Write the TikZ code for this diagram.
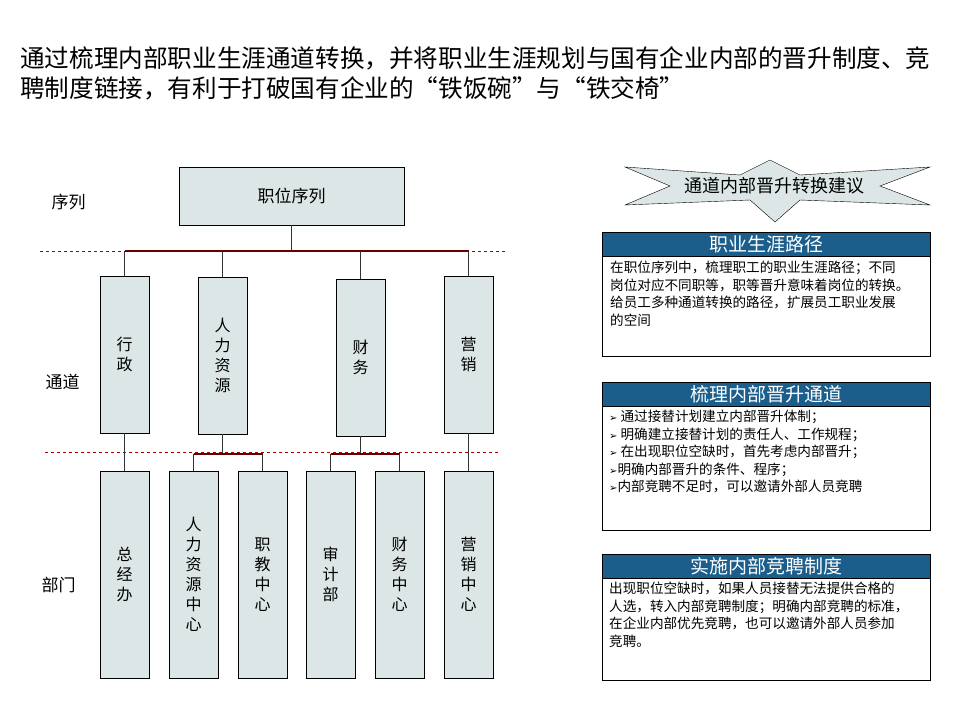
\documentclass[tikz,border=0pt]{standalone}
\usepackage{fontspec}
\setmainfont{Noto Sans CJK SC}
\newfontfamily\symfont{DejaVu Sans}
\newcommand{\arr}{{\symfont\fontsize{10}{12}\selectfont ➢}}
\begin{document}
\begin{tikzpicture}[x=1pt,y=-1pt,
  box/.style={draw=black,fill=boxfill,inner sep=0pt},
  vtext/.style={font=\fontsize{16}{20}\selectfont,align=center},
  lbl/.style={font=\fontsize{17}{19}\selectfont,anchor=west},
  conn/.style={draw=black!80,line width=0.8pt},
  bus/.style={draw=red!40!black,line width=1.2pt},
  sep/.style={draw=red!70!black,dashed,line width=0.5pt},
  head/.style={fill=headblue,draw=black,text=white,font=\fontsize{19}{20}\selectfont,inner sep=0pt},
  panel/.style={draw=black,line width=0.8pt},
  body/.style={font=\fontsize{13.6}{17.5}\selectfont,anchor=north west,align=left,inner sep=0pt}]
\definecolor{boxfill}{HTML}{DDE6E6}
\definecolor{headblue}{HTML}{1B5E8C}
\useasboundingbox (0,0) rectangle (960,720);
\fill[white] (0,0) rectangle (960,720);
% title
\node[anchor=west,inner sep=0pt,font=\fontsize{24.6}{28}\selectfont] (t1) at (20,58) {通过梳理内部职业生涯通道转换，并将职业生涯规划与国有企业内部的晋升制度、竞};
\node[anchor=west,inner sep=0pt,font=\fontsize{24.6}{28}\selectfont] (t2) at (20,88) {聘制度链接，有利于打破国有企业的“铁饭碗”与“铁交椅”};
% labels
\node[lbl] (l1) at (48,202) {序列};
\node[lbl] (l2) at (42,382) {通道};
\node[lbl] (l3) at (38,585) {部门};
% separators
\coordinate (s1a) at (40,251); \coordinate (s1b) at (505,251);
\coordinate (s2a) at (45,452); \coordinate (s2b) at (500,452);
\draw[sep] (s1a) -- (s1b);
\draw[sep] (s2a) -- (s2b);
% root
\node[box,minimum width=225pt,minimum height=58pt,font=\fontsize{17}{19}\selectfont] (root) at (291.5,196) {职位序列};
% channels
\node[box,minimum width=49pt,minimum height=157pt,vtext] (c1) at (124.5,354.5) {行\\政};
\node[box,minimum width=49pt,minimum height=157pt,vtext] (c2) at (222.5,355.5) {人\\力\\资\\源};
\node[box,minimum width=49pt,minimum height=157pt,vtext] (c3) at (360.5,357.5) {财\\务};
\node[box,minimum width=49pt,minimum height=157pt,vtext] (c4) at (468.5,354.5) {营\\销};
% departments
\node[box,minimum width=49pt,minimum height=207pt,vtext] (d1) at (124.5,574.5) {总\\经\\办};
\node[box,minimum width=49pt,minimum height=207pt,vtext] (d2) at (193.5,574.5) {人\\力\\资\\源\\中\\心};
\node[box,minimum width=49pt,minimum height=207pt,vtext] (d3) at (262.5,574.5) {职\\教\\中\\心};
\node[box,minimum width=49pt,minimum height=207pt,vtext] (d4) at (330.5,574.5) {审\\计\\部};
\node[box,minimum width=49pt,minimum height=207pt,vtext] (d5) at (399.5,574.5) {财\\务\\中\\心};
\node[box,minimum width=49pt,minimum height=207pt,vtext] (d6) at (468.5,574.5) {营\\销\\中\\心};
% tree connectors
\draw[conn] (root.south) -- ++(0,26);
\draw[bus] (c1.north |- 0,251) -- (c4.north |- 0,251);
\foreach \c in {c1,c2,c3,c4} \draw[conn] (\c.north) -- (\c.north |- 0,251);
\draw[conn] (c1.south) -- (d1.north);
\draw[conn] (c4.south) -- (d6.north);
\draw[conn] (c2.south) -- (c2.south |- 0,454);
\draw[bus] (d2.north |- 0,454) -- (d3.north |- 0,454);
\draw[conn] (d2.north) -- (d2.north |- 0,454);
\draw[conn] (d3.north) -- (d3.north |- 0,454);
\draw[conn] (c3.south) -- (c3.south |- 0,454);
\draw[bus] (d4.north |- 0,454) -- (d5.north |- 0,454);
\draw[conn] (d4.north) -- (d4.north |- 0,454);
\draw[conn] (d5.north) -- (d5.north |- 0,454);
% banner
\draw[fill=boxfill,draw=black] (625,167) -- (740,175) -- (770,160) -- (800,175) -- (930,167) -- (880,186) -- (930,205) -- (800,200) -- (775,222) -- (750,200) -- (625,205) -- (670,186) -- cycle;
\node[font=\fontsize{18}{20}\selectfont] (ban) at (774,186) {通道内部晋升转换建议};
% panel 1
\draw[panel] (602,232) rectangle (930,356);
\node[head,minimum width=328pt,minimum height=24pt] (h1) at (766,244) {职业生涯路径};
\node[body] (b1) at (610,261) {在职位序列中，梳理职工的职业生涯路径；不同\\岗位对应不同职等，职等晋升意味着岗位的转换。\\给员工多种通道转换的路径，扩展员工职业发展\\的空间};
% panel 2
\draw[panel] (602,382) rectangle (930,530);
\node[head,minimum width=328pt,minimum height=24pt] (h2) at (766,394) {梳理内部晋升通道};
\node[body] (b2) at (609,410) {\arr{} 通过接替计划建立内部晋升体制；\\\arr{} 明确建立接替计划的责任人、工作规程；\\\arr{} 在出现职位空缺时，首先考虑内部晋升；\\\arr{}明确内部晋升的条件、程序；\\\arr{}内部竞聘不足时，可以邀请外部人员竞聘};
% panel 3
\draw[panel] (602,554) rectangle (930,680);
\node[head,minimum width=328pt,minimum height=24pt] (h3) at (766,566) {实施内部竞聘制度};
\node[body] (b3) at (609,582) {出现职位空缺时，如果人员接替无法提供合格的\\人选，转入内部竞聘制度；明确内部竞聘的标准，\\在企业内部优先竞聘，也可以邀请外部人员参加\\竞聘。};
\end{tikzpicture}
\end{document}
